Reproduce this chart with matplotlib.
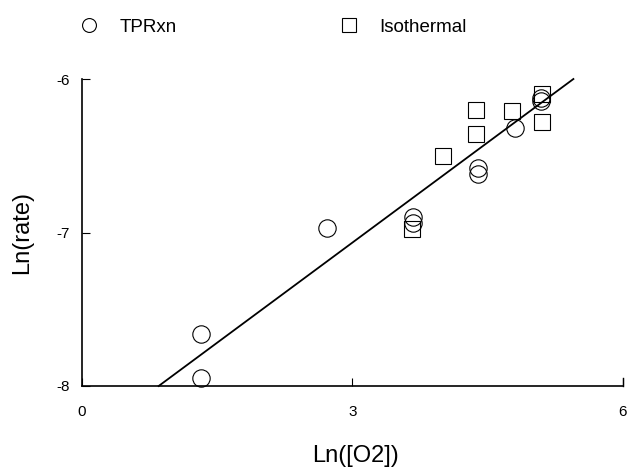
import numpy as np
import matplotlib.pyplot as plt

plt.rcParams['font.family'] = ['Liberation Sans', 'DejaVu Sans']

# TPRxn (circles)
tpr_x = [1.32, 1.32, 2.72, 3.67, 3.67, 4.39, 4.39, 4.80, 5.09, 5.09]
tpr_y = [-7.66, -7.95, -6.97, -6.90, -6.94, -6.58, -6.62, -6.32, -6.12, -6.14]

# Isothermal (squares)
iso_x = [3.66, 4.00, 4.37, 4.37, 4.77, 5.10, 5.10]
iso_y = [-6.98, -6.50, -6.36, -6.20, -6.21, -6.28, -6.10]

# fitted line
slope = 0.435
intercept = -8.37
fit_x = np.array([0.85, 5.45])

fig = plt.figure(figsize=(6.28, 4.71), dpi=100)
ax = fig.add_axes([0.1306, 0.1805, 0.8614, 0.6515])

ax.plot(fit_x, slope * fit_x + intercept, color='black', lw=1.3, clip_on=False)
ax.plot(tpr_x, tpr_y, 'o', mfc='none', mec='black', mew=0.8, ms=12.5,
        label='TPRxn', clip_on=False)
ax.plot(iso_x, iso_y, 's', mfc='none', mec='black', mew=0.8, ms=12,
        label='Isothermal', clip_on=False)

ax.set_xlim(0, 6)
ax.set_ylim(-8, -6)
ax.set_xticks([0, 3, 6])
ax.set_yticks([-8, -7, -6])
ax.set_xticklabels(['0', '3', '6'])
ax.set_yticklabels(['-8', '-7', '-6'])
ax.tick_params(direction='in', length=6, width=0.8, labelsize=11)
ax.tick_params(axis='x', pad=14)
ax.tick_params(axis='y', pad=9)
ax.spines['top'].set_visible(False)
ax.spines['right'].set_visible(False)
ax.spines['left'].set_linewidth(1.2)
ax.spines['bottom'].set_linewidth(1.2)
ax.plot([6, 6], [-8, -7.95], color='black', lw=1, clip_on=False)

fig.text(356 / 628, 1 - 456 / 471, 'Ln([O2])', fontsize=17, ha='center', va='center')
fig.text(22 / 628, 1 - 233 / 471, 'Ln(rate)', fontsize=17, ha='center', va='center',
         rotation=90)

fig.legend(*ax.get_legend_handles_labels(), loc='center left',
           bbox_to_anchor=(80 / 628, 1 - 27 / 471), ncol=2, frameon=False,
           fontsize=13.5, columnspacing=8.7, handlelength=1.0, handletextpad=1.1,
           borderpad=0, borderaxespad=0, markerscale=0.8)

fig.savefig('out.png', dpi=100)
